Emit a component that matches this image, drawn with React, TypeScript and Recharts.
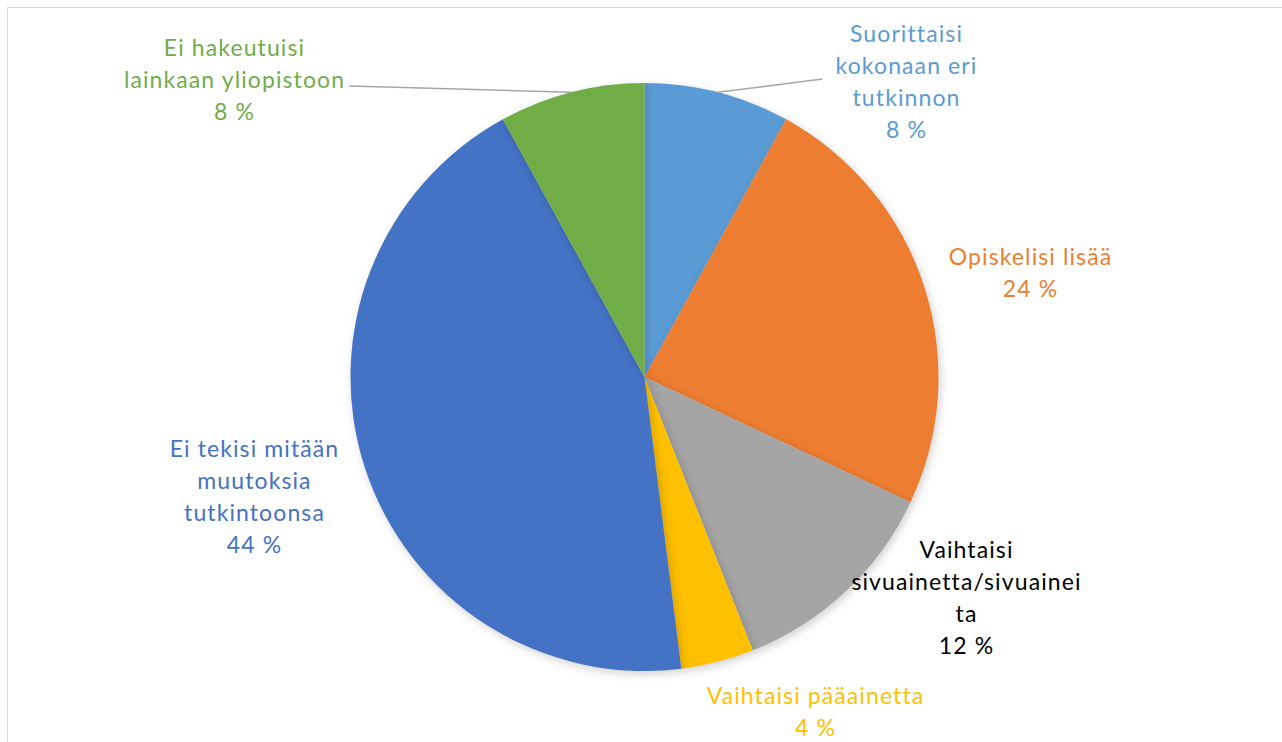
import { Cell, Pie, PieChart } from 'recharts';

const categories = [
  'Suorittaisi kokonaan eri tutkinnon',
  'Opiskelisi lisää',
  'Vaihtaisi sivuainetta/sivuaineita',
  'Vaihtaisi pääainetta',
  'Ei tekisi mitään muutoksia tutkintoonsa',
  'Ei hakeutuisi lainkaan yliopistoon',
];
const shares = [8, 24, 12, 4, 44, 8];
// rivitys kuten Excelin kuvassa
const labelLines = [
  ['Suorittaisi', 'kokonaan eri', 'tutkinnon'],
  ['Opiskelisi lisää'],
  ['Vaihtaisi', 'sivuainetta/sivuainei', 'ta'],
  ['Vaihtaisi pääainetta'],
  ['Ei tekisi mitään', 'muutoksia', 'tutkintoonsa'],
  ['Ei hakeutuisi', 'lainkaan yliopistoon'],
];

const sliceColors = ['#5B9BD5', '#ED7D31', '#A5A5A5', '#FFC000', '#4472C4', '#70AD47'];
const labelColors = ['#5B9BD5', '#ED7D31', '#000000', '#FFC000', '#4472C4', '#70AD47'];

// tekstilohkon keskipiste suhteessa ympyrän keskipisteeseen (px)
const labelOffsets = [
  { dx: 262, dy: -296 },
  { dx: 386, dy: -105 },
  { dx: 322, dy: 220 },
  { dx: 171, dy: 334 },
  { dx: -390, dy: 119 },
  { dx: -410, dy: -298 },
];
// johtoviivan loppupiste, vain osalle
const leaderEnds: ({ dx: number; dy: number } | null)[] = [
  { dx: 178, dy: -298 },
  null,
  null,
  null,
  null,
  { dx: -295, dy: -291 },
];

const data = categories.map((name, i) => ({ name, value: shares[i] }));

const W = 1282;
const H = 742;
const CX = 644.5;
const CY = 377;
const R = 294;
const LINE_H = 32;
const RAD = Math.PI / 180;

const renderLabel = (props: any) => {
  const { cx, cy, midAngle, outerRadius, percent, index } = props;
  const lines = [...labelLines[index], `${Math.round(percent * 100)} %`];
  const off = labelOffsets[index];
  const x = cx + off.dx;
  const y0 = cy + off.dy - ((lines.length - 1) * LINE_H) / 2;
  const end = leaderEnds[index];
  const sx = cx + outerRadius * Math.cos(-midAngle * RAD);
  const sy = cy + outerRadius * Math.sin(-midAngle * RAD);
  return (
    <g key={`lbl-${index}`}>
      {end && (
        <line x1={sx} y1={sy} x2={cx + end.dx} y2={cy + end.dy} stroke="#A6A6A6" strokeWidth={1.5} />
      )}
      <text
        x={x}
        textAnchor="middle"
        fill={labelColors[index]}
        fontSize={23}
        letterSpacing={1.1}
        fontFamily="Lato, 'Open Sans', sans-serif"
      >
        {lines.map((t, i) => (
          <tspan key={i} x={x} y={y0 + i * LINE_H} dominantBaseline="central">
            {t}
          </tspan>
        ))}
      </text>
    </g>
  );
};

export default function App() {
  return (
    <div
      style={{
        position: 'absolute',
        left: 0,
        top: 0,
        width: W,
        height: H,
        overflow: 'hidden',
        background: '#fff',
      }}
    >
      <div
        style={{
          position: 'absolute',
          left: 7,
          top: 7,
          width: W + 20,
          height: H + 20,
          border: '1.5px solid #D9D9D9',
        }}
      />
      <style>{`.recharts-pie-sector path { filter: drop-shadow(2px 3px 4px rgba(0,0,0,0.18)); }`}</style>
      <div style={{ position: 'absolute', left: 0, top: 0 }}>
        <PieChart width={W} height={H} margin={{ top: 0, right: 0, bottom: 0, left: 0 }}>
          <Pie
            data={data}
            dataKey="value"
            nameKey="name"
            cx={CX}
            cy={CY}
            outerRadius={R}
            startAngle={90}
            endAngle={-270}
            stroke="none"
            label={renderLabel}
            labelLine={false}
            isAnimationActive={false}
          >
            {data.map((d, i) => (
              <Cell key={d.name} fill={sliceColors[i]} />
            ))}
          </Pie>
        </PieChart>
      </div>
    </div>
  );
}
